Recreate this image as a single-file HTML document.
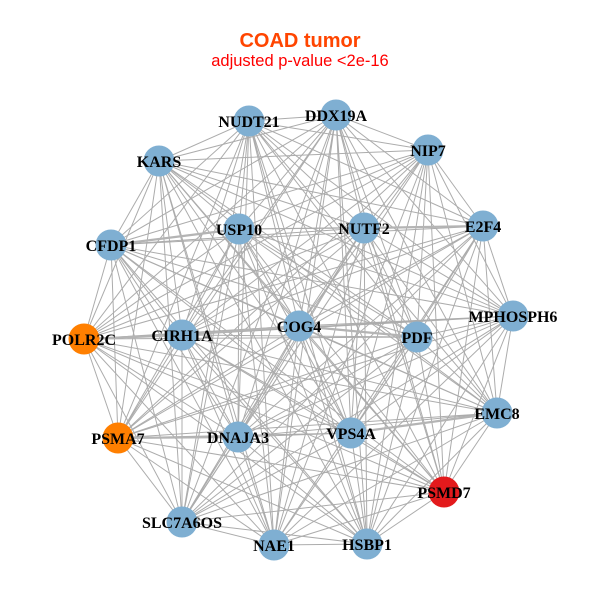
<!DOCTYPE html>
<html><head><meta charset="utf-8"><style>
html,body{margin:0;padding:0;background:#fff;}
svg{display:block;}
</style></head><body>
<svg width="600" height="600" viewBox="0 0 600 600" xmlns="http://www.w3.org/2000/svg">
<rect width="600" height="600" fill="#fff"/>
<text x="300" y="47" text-anchor="middle" font-family="Liberation Sans, sans-serif" font-weight="bold" font-size="20" fill="#ff4500">COAD tumor</text>
<text x="300" y="66" text-anchor="middle" font-family="Liberation Sans, sans-serif" font-size="16.5" fill="#ff0000">adjusted p-value &lt;2e-16</text>
<g fill="none" stroke="#acacac" stroke-width="1">
<path d="M249 121L336 115M249 121L428 150M249 121L483 226M249 121L513 316M249 121L497 413M249 121L444 492M249 121L367 544M249 121L274 545M249 121L182 522M249 121L118 438M249 121L84 339M249 121L111 245M249 121L159 161M249 121L239 229M249 121L364 228M249 121L417 337M249 121L351 433M249 121L238 437M249 121L182 335M249 121L299 326"/>
<path d="M336 115L428 150M336 115L483 226M336 115L513 316M336 115L497 413M336 115L444 492M336 115L367 544M336 115L274 545M336 115L182 522M336 115L118 438M336 115L84 339M336 115L111 245M336 115L159 161M336 115L239 229M336 115L364 228M336 115L417 337M336 115L351 433M336 115L238 437M336 115L182 335M336 115L299 326"/>
<path d="M428 150L483 226M428 150L513 316M428 150L497 413M428 150L444 492M428 150L367 544M428 150L274 545M428 150L182 522M428 150L118 438M428 150L84 339M428 150L111 245M428 150L159 161M428 150L239 229M428 150L364 228M428 150L417 337M428 150L351 433M428 150L238 437M428 150L182 335M428 150L299 326"/>
<path d="M483 226L513 316M483 226L497 413M483 226L444 492M483 226L367 544M483 226L274 545M483 226L182 522M483 226L118 438M483 226L84 339M483 226L111 245M483 226L159 161M483 226L239 229M483 226L364 228M483 226L417 337M483 226L351 433M483 226L238 437M483 226L182 335M483 226L299 326"/>
<path d="M513 316L497 413M513 316L444 492M513 316L367 544M513 316L274 545M513 316L182 522M513 316L118 438M513 316L84 339M513 316L111 245M513 316L159 161M513 316L239 229M513 316L364 228M513 316L417 337M513 316L351 433M513 316L238 437M513 316L182 335M513 316L299 326"/>
<path d="M497 413L444 492M497 413L367 544M497 413L274 545M497 413L182 522M497 413L118 438M497 413L84 339M497 413L111 245M497 413L159 161M497 413L239 229M497 413L364 228M497 413L417 337M497 413L351 433M497 413L238 437M497 413L182 335M497 413L299 326"/>
<path d="M444 492L367 544M444 492L274 545M444 492L182 522M444 492L118 438M444 492L84 339M444 492L111 245M444 492L159 161M444 492L239 229M444 492L364 228M444 492L417 337M444 492L351 433M444 492L238 437M444 492L182 335M444 492L299 326"/>
<path d="M367 544L274 545M367 544L182 522M367 544L118 438M367 544L84 339M367 544L111 245M367 544L159 161M367 544L239 229M367 544L364 228M367 544L417 337M367 544L351 433M367 544L238 437M367 544L182 335M367 544L299 326"/>
<path d="M274 545L182 522M274 545L118 438M274 545L84 339M274 545L111 245M274 545L159 161M274 545L239 229M274 545L364 228M274 545L417 337M274 545L351 433M274 545L238 437M274 545L182 335M274 545L299 326"/>
<path d="M182 522L118 438M182 522L84 339M182 522L111 245M182 522L159 161M182 522L239 229M182 522L364 228M182 522L417 337M182 522L351 433M182 522L238 437M182 522L182 335M182 522L299 326"/>
<path d="M118 438L84 339M118 438L111 245M118 438L159 161M118 438L239 229M118 438L364 228M118 438L417 337M118 438L351 433M118 438L238 437M118 438L182 335M118 438L299 326"/>
<path d="M84 339L111 245M84 339L159 161M84 339L239 229M84 339L364 228M84 339L417 337M84 339L351 433M84 339L238 437M84 339L182 335M84 339L299 326"/>
<path d="M111 245L159 161M111 245L239 229M111 245L364 228M111 245L417 337M111 245L351 433M111 245L238 437M111 245L182 335M111 245L299 326"/>
<path d="M159 161L239 229M159 161L364 228M159 161L417 337M159 161L351 433M159 161L238 437M159 161L182 335M159 161L299 326"/>
<path d="M239 229L364 228M239 229L417 337M239 229L351 433M239 229L238 437M239 229L182 335M239 229L299 326"/>
<path d="M364 228L417 337M364 228L351 433M364 228L238 437M364 228L182 335M364 228L299 326"/>
<path d="M417 337L351 433M417 337L238 437M417 337L182 335M417 337L299 326"/>
<path d="M351 433L238 437M351 433L182 335M351 433L299 326"/>
<path d="M238 437L182 335M238 437L299 326"/>
<path d="M182 335L299 326"/>
</g>
<g fill="none" stroke="#b4b4b4" stroke-width="2.2">
<path d="M182 335L299 326M299 326L417 337M111 245L239 229M364 228L483 226M118 438L238 437M351 433L497 413M84 339L182 335"/>
</g>
<g>
<circle cx="249" cy="121" r="15.5" fill="#7fafd2"/>
<circle cx="336" cy="115" r="15.5" fill="#7fafd2"/>
<circle cx="428" cy="150" r="15.5" fill="#7fafd2"/>
<circle cx="483" cy="226" r="15.5" fill="#7fafd2"/>
<circle cx="513" cy="316" r="15.5" fill="#7fafd2"/>
<circle cx="497" cy="413" r="15.5" fill="#7fafd2"/>
<circle cx="444" cy="492" r="15.5" fill="#e31a1c"/>
<circle cx="367" cy="544" r="15.5" fill="#7fafd2"/>
<circle cx="274" cy="545" r="15.5" fill="#7fafd2"/>
<circle cx="182" cy="522" r="15.5" fill="#7fafd2"/>
<circle cx="118" cy="438" r="15.5" fill="#ff7f00"/>
<circle cx="84" cy="339" r="15.5" fill="#ff7f00"/>
<circle cx="111" cy="245" r="15.5" fill="#7fafd2"/>
<circle cx="159" cy="161" r="15.5" fill="#7fafd2"/>
<circle cx="239" cy="229" r="15.5" fill="#7fafd2"/>
<circle cx="364" cy="228" r="15.5" fill="#7fafd2"/>
<circle cx="417" cy="337" r="15.5" fill="#7fafd2"/>
<circle cx="351" cy="433" r="15.5" fill="#7fafd2"/>
<circle cx="238" cy="437" r="15.5" fill="#7fafd2"/>
<circle cx="182" cy="335" r="15.5" fill="#7fafd2"/>
<circle cx="299" cy="326" r="15.5" fill="#7fafd2"/>
</g>
<g font-family="Liberation Serif, serif" font-weight="bold" font-size="16" fill="#000" text-anchor="middle">
<text x="249" y="127">NUDT21</text>
<text x="336" y="121">DDX19A</text>
<text x="428" y="156">NIP7</text>
<text x="483" y="232">E2F4</text>
<text x="513" y="322">MPHOSPH6</text>
<text x="497" y="419">EMC8</text>
<text x="444" y="498">PSMD7</text>
<text x="367" y="550">HSBP1</text>
<text x="274" y="551">NAE1</text>
<text x="182" y="528">SLC7A6OS</text>
<text x="118" y="444">PSMA7</text>
<text x="84" y="345">POLR2C</text>
<text x="111" y="251">CFDP1</text>
<text x="159" y="167">KARS</text>
<text x="239" y="235">USP10</text>
<text x="364" y="234">NUTF2</text>
<text x="417" y="343">PDF</text>
<text x="351" y="439">VPS4A</text>
<text x="238" y="443">DNAJA3</text>
<text x="182" y="341">CIRH1A</text>
<text x="299" y="332">COG4</text>
</g>
</svg>
</body></html>
